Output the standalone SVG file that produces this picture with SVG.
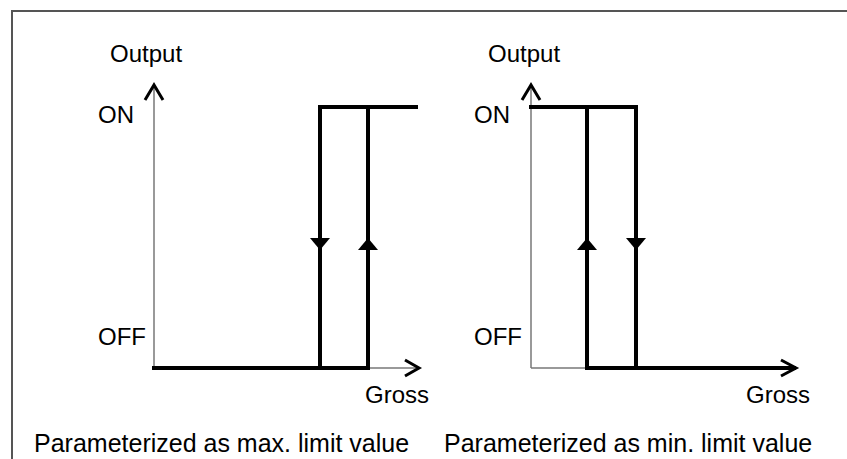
<svg xmlns="http://www.w3.org/2000/svg" width="847" height="459" viewBox="0 0 847 459">
<style>
text{font-family:"Liberation Sans",Arial,sans-serif;font-size:24px;fill:#000}
.cap{font-size:25px}
.frame{fill:none;stroke:#555;stroke-width:2}
.axis{fill:none;stroke:#777;stroke-width:1.5}
.thick{fill:none;stroke:#000;stroke-width:4;stroke-linecap:square}
.chev{fill:none;stroke:#000;stroke-width:3}
.tri{fill:#000}
</style>
<rect width="847" height="459" fill="#fff"/>
<polyline class="frame" points="12,459 12,11 847,11"/>
<g id="chart-max">
<text x="110" y="62">Output</text>
<text x="98" y="123">ON</text>
<text x="98" y="345">OFF</text>
<text x="365" y="403">Gross</text>
<text class="cap" x="34" y="452">Parameterized as max. limit value</text>
</g>
<g id="chart-min">
<text x="488" y="62">Output</text>
<text x="474" y="123">ON</text>
<text x="474" y="345">OFF</text>
<text x="746" y="403">Gross</text>
<text class="cap" x="444" y="452">Parameterized as min. limit value</text>
</g>
<g id="connectors">
<line class="axis" x1="154" y1="368" x2="154" y2="86"/>
<polyline class="chev" points="145,100 154,85 163,100"/>
<line class="axis" x1="154" y1="368" x2="417" y2="368"/>
<polyline class="chev" points="405,360 419,368 405,376"/>
<polyline class="thick" points="154,368 368,368"/>
<polyline class="thick" points="320,368 320,107 416,107"/>
<line class="thick" x1="368" y1="368" x2="368" y2="107"/>
<polygon class="tri" points="310,238 330,238 320,250"/>
<polygon class="tri" points="358,250 378,250 368,238"/>
<line class="axis" x1="531" y1="368" x2="531" y2="86"/>
<polyline class="chev" points="522,100 531,85 540,100"/>
<line class="axis" x1="531" y1="368" x2="587" y2="368"/>
<polyline class="thick" points="531,107 636,107 636,368"/>
<polyline class="thick" points="587,107 587,368 794,368"/>
<polyline class="chev" points="781,360 796,368 781,376"/>
<polygon class="tri" points="577,250 597,250 587,238"/>
<polygon class="tri" points="626,238 646,238 636,250"/>
</g>
</svg>
